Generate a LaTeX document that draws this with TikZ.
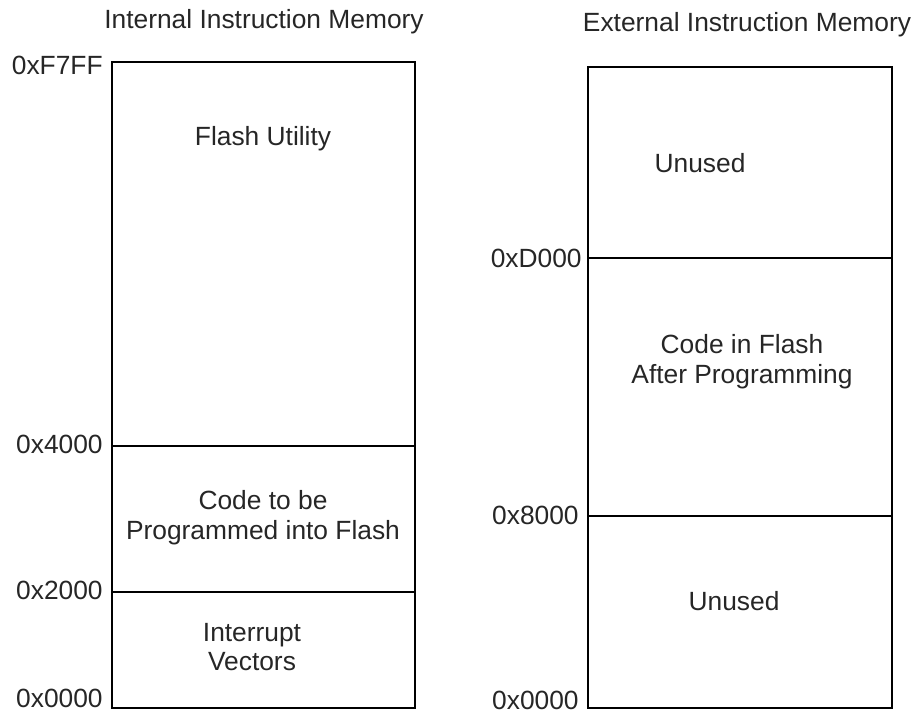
\documentclass[tikz,border=0pt]{standalone}
\usepackage{fontspec}
\setmainfont{Liberation Sans}
\usetikzlibrary{positioning}

\tikzset{
	seg/.style={draw, line width=1.5pt, inner sep=0pt, outer sep=0pt},
	addr/.style={anchor=east, inner sep=0pt},
	txt/.style={align=center, inner sep=0pt},
}

\begin{document}
\begin{tikzpicture}[x=0.02cm, y=-0.02cm, every node/.style={font=\fontsize{15}{17}\selectfont, text=black!85}]
			\useasboundingbox (0,0) rectangle (919,713);
			%Titles
			\node[txt] (inttitle) at (264,22) {Internal Instruction Memory};
			\node[txt] (exttitle) at (747,25) {External Instruction Memory};
			%Internal
			\node[seg, minimum width=6.06cm, minimum height=7.68cm] (utility) at (263.5,254) {};
			\node[seg, minimum width=6.06cm, minimum height=2.92cm] (tocode) at (263.5,519) {};
			\node[seg, minimum width=6.06cm, minimum height=2.32cm] (vectors) at (263.5,650) {};
			\node[txt] (utilitytxt) at (263,139) {Flash Utility};
			\node[txt] (tocodetxt) at (263,518) {Code to be\\Programmed into Flash};
			\node[txt] (vectorstxt) at (252,647) {Interrupt\\Vectors};
			\node[addr] (intF7FF) at (103,65) {0xF7FF};
			\node[addr] (int4000) at (103,444) {0x4000};
			\node[addr] (int2000) at (103,590) {0x2000};
			\node[addr] (int0000) at (103,698) {0x0000};
			%External
			\node[seg, minimum width=6.08cm, minimum height=3.82cm] (unusedhi) at (740,162.5) {};
			\node[seg, minimum width=6.08cm, minimum height=5.16cm] (incode) at (740,387) {};
			\node[seg, minimum width=6.08cm, minimum height=3.84cm] (unusedlo) at (740,612) {};
			\node[txt] (unusedhitxt) at (700,163) {Unused};
			\node[txt] (incodetxt) at (742,362) {Code in Flash\\After Programming};
			\node[txt] (unusedlotxt) at (734,601) {Unused};
			\node[addr] (extD000) at (582,258) {0xD000};
			\node[addr] (ext8000) at (579,515) {0x8000};
			\node[addr] (ext0000) at (579,700) {0x0000};
		\end{tikzpicture}
\end{document}
